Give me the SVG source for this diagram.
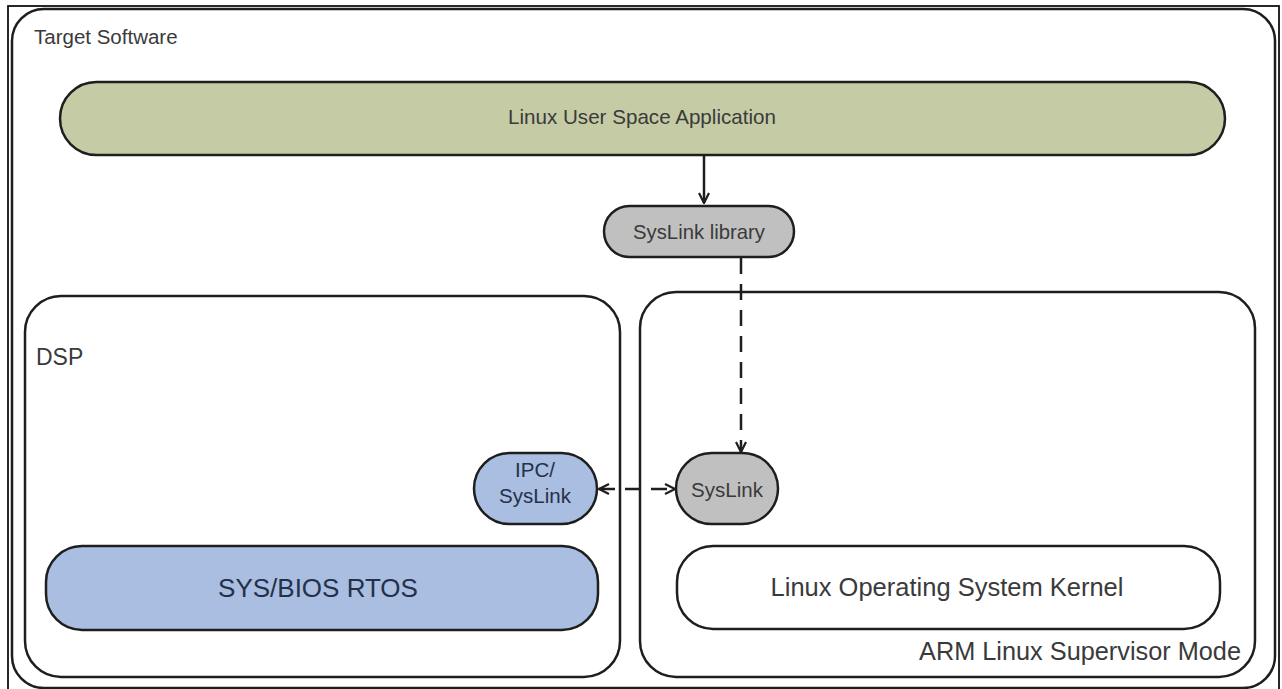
<svg xmlns="http://www.w3.org/2000/svg" width="1282" height="689" viewBox="0 0 1282 689">
<style>
  .box{fill:#ffffff;stroke:#1e1e1e;stroke-width:2.5}
  .t{font-family:"Liberation Sans",Arial,sans-serif;fill:#3a3a3a}
  .tb{font-family:"Liberation Sans",Arial,sans-serif;fill:#25304a}
  .c{text-anchor:middle}
  .conn{fill:none;stroke:#1e1e1e;stroke-width:2.5}
  .dash{stroke-dasharray:16 10}
</style>
<defs>
  <marker id="open" viewBox="0 0 12 12" refX="11" refY="6" markerWidth="12" markerHeight="12" markerUnits="userSpaceOnUse" orient="auto-start-reverse">
    <path d="M1,1 L11,6 L1,11" fill="none" stroke="#1e1e1e" stroke-width="2.2"/>
  </marker>
</defs>
<rect x="0" y="0" width="1282" height="689" fill="#ffffff"/>
<rect x="8" y="6" width="1271" height="684" fill="none" stroke="#111" stroke-width="1.8"/>
<g id="target-software">
  <rect class="box" x="12" y="9" width="1263" height="679" rx="32"/>
  <text class="t" x="34" y="44" font-size="20.5">Target Software</text>
</g>
<g id="linux-user-space">
  <rect x="60" y="82" width="1165" height="73" rx="36.5" fill="#c5cca5" stroke="#1e1e1e" stroke-width="2.5"/>
  <text class="t c" x="642" y="124" font-size="20.6">Linux User Space Application</text>
</g>
<g id="syslink-library">
  <rect x="604" y="206" width="190" height="51" rx="25.5" fill="#c0c0c0" stroke="#1e1e1e" stroke-width="2.5"/>
  <text class="t c" x="699" y="239" font-size="20.3">SysLink library</text>
</g>
<g id="dsp">
  <rect class="box" x="25" y="296" width="595" height="381" rx="36"/>
  <text class="t" x="36" y="365" font-size="23">DSP</text>
</g>
<g id="arm">
  <rect class="box" x="640" y="292" width="615" height="385" rx="36"/>
  <text class="t" x="1241" y="660" font-size="25.3" text-anchor="end">ARM Linux Supervisor Mode</text>
</g>
<g id="ipc-syslink">
  <rect x="474" y="453" width="123" height="71" rx="35.5" fill="#a9bee0" stroke="#1e1e1e" stroke-width="2.5"/>
  <text class="tb c" x="535" y="477" font-size="20.5">IPC/</text>
  <text class="tb c" x="535" y="503" font-size="20.5">SysLink</text>
</g>
<g id="syslink">
  <rect x="676" y="453" width="102" height="71" rx="35.5" fill="#c0c0c0" stroke="#1e1e1e" stroke-width="2.5"/>
  <text class="t c" x="727" y="497" font-size="20.5">SysLink</text>
</g>
<g id="sysbios">
  <rect x="46" y="546" width="552" height="84" rx="36" fill="#a9bee0" stroke="#1e1e1e" stroke-width="2.5"/>
  <text class="tb c" x="318" y="597" font-size="26">SYS/BIOS RTOS</text>
</g>
<g id="linux-kernel">
  <rect class="box" x="677" y="546" width="543" height="83" rx="36"/>
  <text class="t c" x="947" y="596" font-size="25.5">Linux Operating System Kernel</text>
</g>
<g id="connectors">
  <line class="conn" x1="704" y1="155" x2="704" y2="203" marker-end="url(#open)"/>
  <line class="conn dash" x1="741" y1="258" x2="741" y2="452" marker-end="url(#open)"/>
  <line class="conn dash" x1="599" y1="489" x2="675" y2="489" marker-start="url(#open)" marker-end="url(#open)"/>
</g>
</svg>
